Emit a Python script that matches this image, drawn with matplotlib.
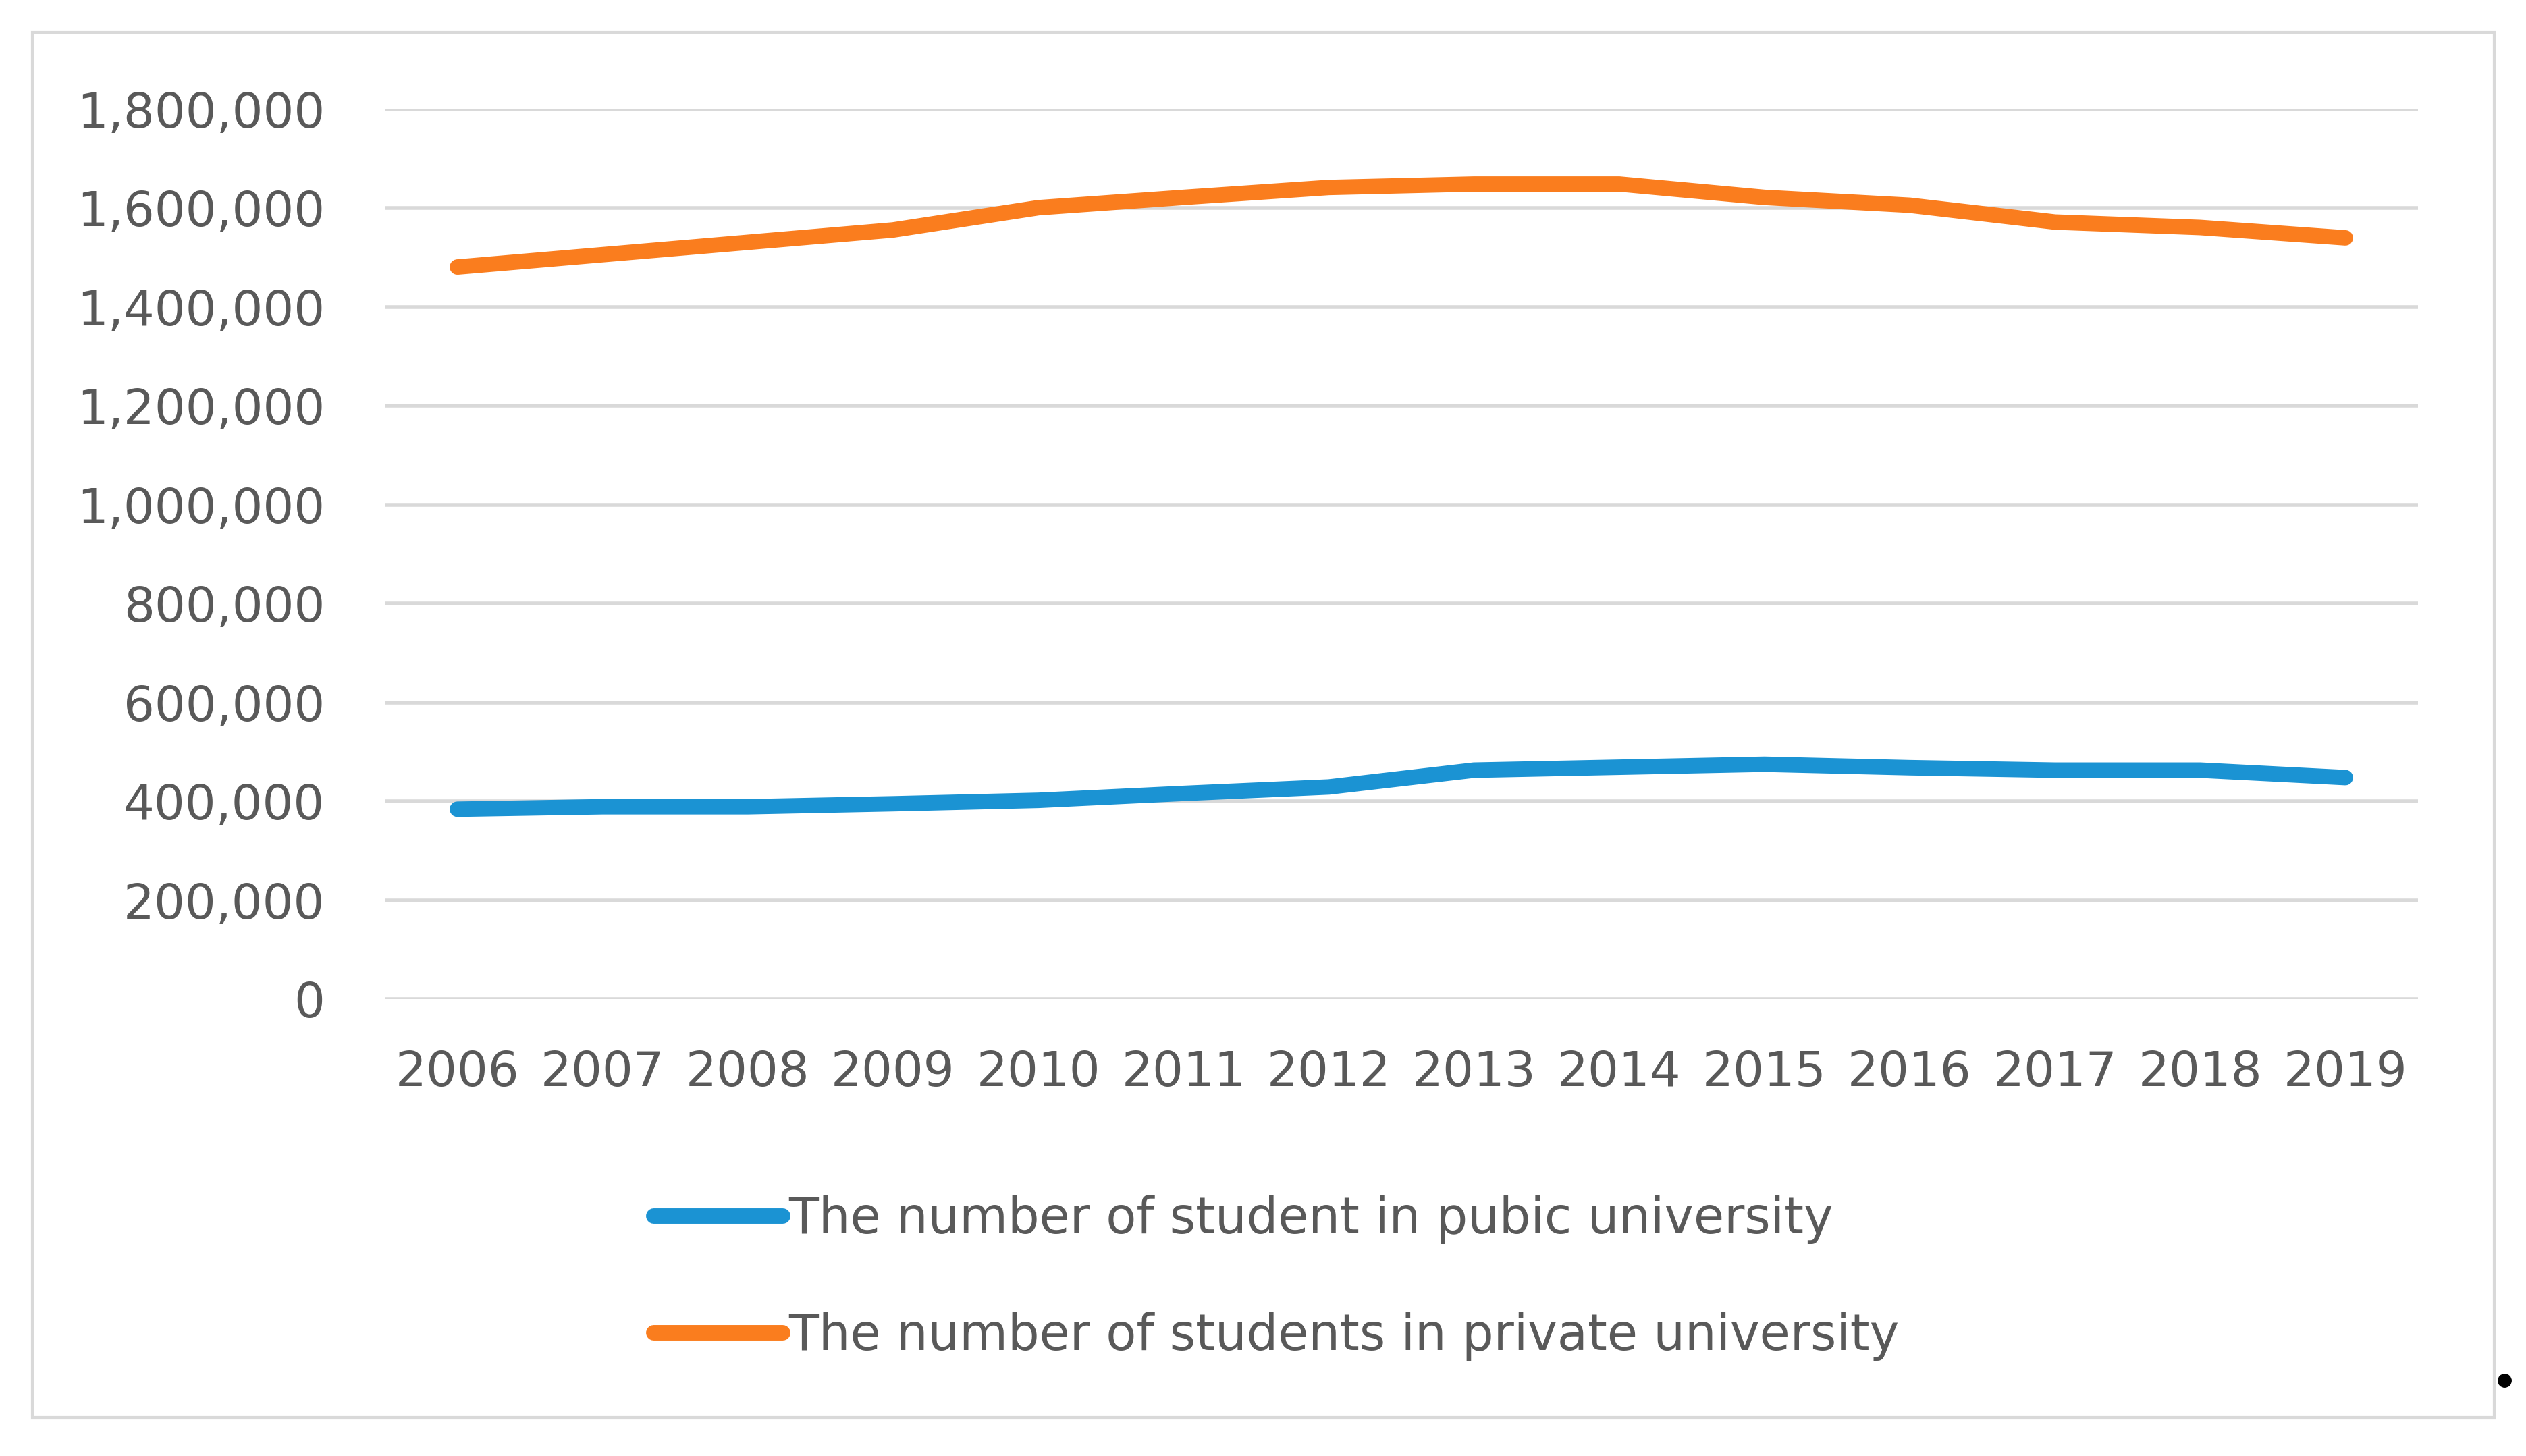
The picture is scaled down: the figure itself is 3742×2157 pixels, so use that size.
import matplotlib
matplotlib.use("Agg")
import matplotlib.pyplot as plt
from matplotlib.ticker import FuncFormatter, FixedLocator
from matplotlib.patches import Rectangle

years = ["2006", "2007", "2008", "2009", "2010", "2011", "2012",
         "2013", "2014", "2015", "2016", "2017", "2018", "2019"]
public = [384000, 389000, 389000, 395000, 402000, 416000, 429000,
          463000, 469000, 475000, 468000, 463000, 463000, 448000]
private = [1481000, 1506000, 1531000, 1556000, 1601000, 1622000, 1642000,
           1649000, 1649000, 1622000, 1606000, 1572000, 1561000, 1540000]
labels = ["The number of student in pubic university",
          "The number of students in private university"]
yticks = [0, 200000, 400000, 600000, 800000, 1000000, 1200000, 1400000, 1600000, 1800000]

W, H = 3742, 2157
plt.rcParams['font.family'] = ['DejaVu Sans']
fig = plt.figure(figsize=(W / 100, H / 100), dpi=100)
fig.patch.set_facecolor("white")

ax = fig.add_axes([570 / W, 1 - 1480 / H, (3582 - 570) / W, (1480 - 162) / H])
x = list(range(len(years)))
ax.plot(x, public, color="#1B93D3", lw=16.5, solid_capstyle="round",
        solid_joinstyle="round", label=labels[0], zorder=3)
ax.plot(x, private, color="#FA7D1E", lw=16.5, solid_capstyle="round",
        solid_joinstyle="round", label=labels[1], zorder=3)

ax.set_xlim(-0.5, len(years) - 0.5)
ax.set_ylim(0, 1800000)
ax.set_xticks(x)
ax.set_xticklabels(years)
ax.yaxis.set_major_locator(FixedLocator(yticks))
ax.yaxis.set_major_formatter(FuncFormatter(lambda v, p: f"{int(v):,}"))
ax.grid(axis="y", color="#D9D9D9", lw=4)
ax.set_axisbelow(True)
for s in ax.spines.values():
    s.set_visible(False)
ax.tick_params(axis="both", length=0, labelsize=52, labelcolor="#595959")
ax.tick_params(axis="y", pad=64)
ax.tick_params(axis="x", pad=54)
ax.set_facecolor("none")

# outer chart border
fig.patches.append(Rectangle((48 / W, 1 - 2100 / H), (3695 - 48) / W, (2100 - 48) / H,
                             transform=fig.transFigure, fill=False,
                             edgecolor="#D9D9D9", lw=3, zorder=0))
# small dot at right edge
fig.add_artist(plt.Line2D([3710 / W], [1 - 2045 / H], marker="o", markersize=14,
                          color="black", transform=fig.transFigure))

handles, labs = ax.get_legend_handles_labels()
fig.legend(handles, labs, loc="center left",
           bbox_to_anchor=(968 / W, 1 - 1893 / H),
           frameon=False, fontsize=53, handlelength=2.6, handletextpad=0.12,
           labelspacing=1.36, borderpad=0, borderaxespad=0, labelcolor="#595959")

fig.savefig("out.png", dpi=100, facecolor="white")
